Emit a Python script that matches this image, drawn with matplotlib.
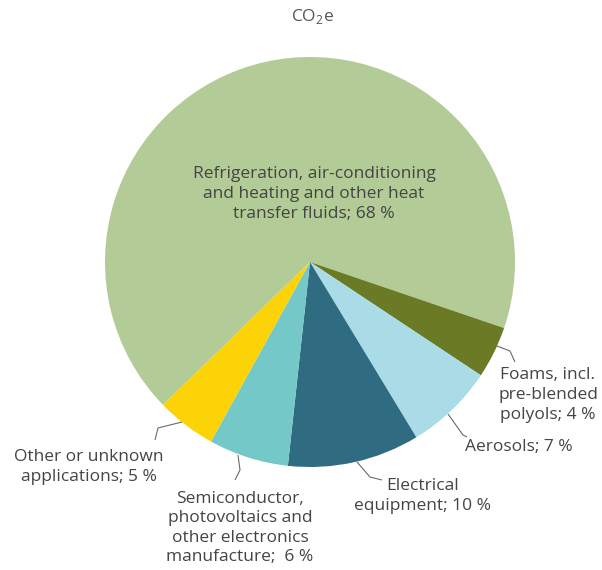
import matplotlib
matplotlib.use("Agg")
import matplotlib.pyplot as plt

plt.rcParams['font.family'] = ['Open Sans', 'DejaVu Sans']
plt.rcParams['mathtext.fontset'] = 'custom'
plt.rcParams['mathtext.rm'] = 'Open Sans'

categories = ["Refrigeration, air-conditioning\nand heating and other heat\ntransfer fluids; 68 %",
              "Foams, incl.\npre-blended\npolyols; 4 %",
              "Aerosols; 7 %",
              "Electrical\nequipment; 10 %",
              "Semiconductor,\nphotovoltaics and\nother electronics\nmanufacture;  6 %",
              "Other or unknown\napplications; 5 %"]
values = [67.5, 4.1, 7.0, 10.4, 6.3, 4.7]
colors = ["#b3cb96", "#6b7a25", "#a9dce6", "#2f6b81", "#74c8c8", "#fcd307"]

W, H = 602, 570
fig = plt.figure(figsize=(W / 100, H / 100), dpi=100)
ax = fig.add_axes([0, 0, 1, 1])

cx, cy, r = 310, H - 262, 205
ax.pie(values, colors=colors, startangle=224.2, counterclock=False,
       center=(cx, cy), radius=r, frame=True,
       wedgeprops=dict(linewidth=0))
ax.set_xlim(0, W)
ax.set_ylim(0, H)
ax.set_aspect('equal')
ax.axis('off')

tc = "#444444"
fs = 12.5
# label positions (pixel coords, y from top)
pos = [(314, 194), (548, 395), (519, 447),
       (423, 496), (240, 528), (89, 467)]
for lab, (x, y) in zip(categories, pos):
    ax.text(x, H - y, lab, ha='center', va='center', fontsize=fs, color=tc,
            linespacing=1.3)

# leader lines
lc = "#6a6a6a"
leaders = [
    [(497, 346), (510, 351), (515, 362)],
    [(448, 414), (463, 435), (467, 437)],
    [(357, 462), (370, 477), (382, 480)],
    [(238, 455), (240, 470), (235, 480)],
    [(182, 422), (158, 428), (155, 440)],
]
for pts in leaders:
    xs = [p[0] for p in pts]
    ys = [H - p[1] for p in pts]
    ax.plot(xs, ys, color=lc, lw=0.8, solid_capstyle='butt')

ax.text(312, H - 16, r"CO$_{\mathregular{2}}$e", ha='center', va='center',
        fontsize=12.5, color="#555555")

fig.savefig("out.png", dpi=100)
